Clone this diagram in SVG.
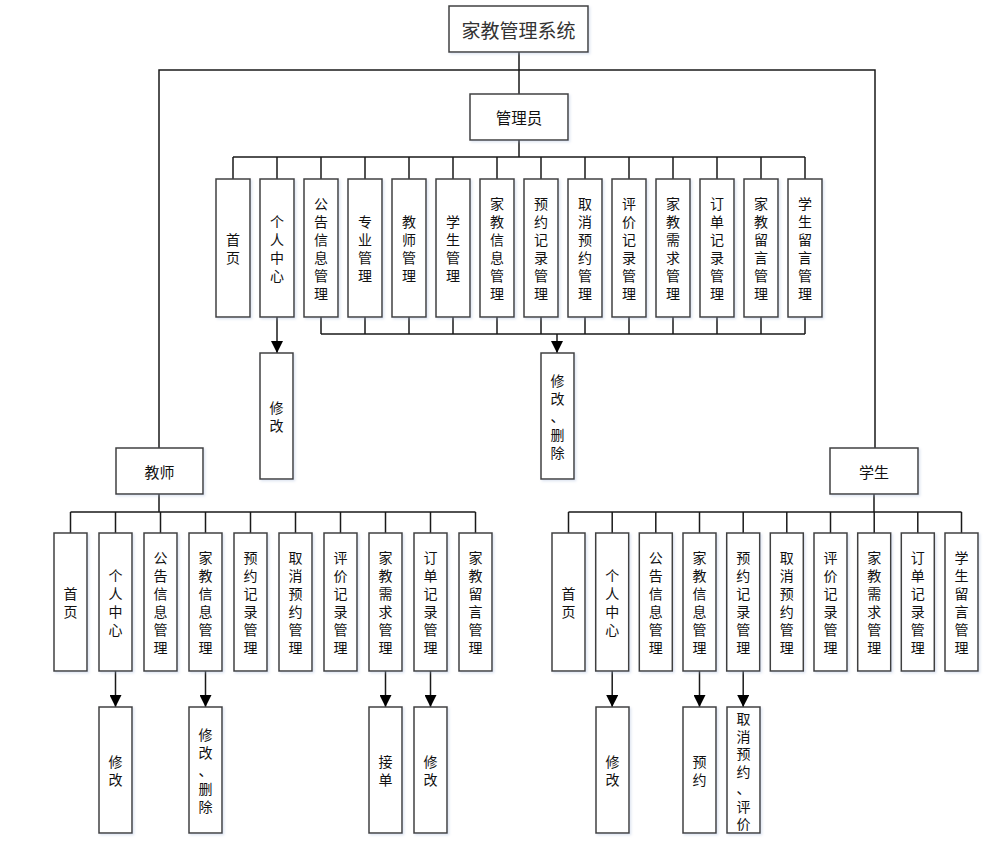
<svg xmlns="http://www.w3.org/2000/svg" width="992" height="850" viewBox="0 0 992 850">
<style>
.b{fill:#fff;stroke:#404040;stroke-width:1.5;filter:url(#sh)}
.t{font-family:"Noto Sans CJK SC","Liberation Sans",sans-serif;font-size:14px;fill:#111;text-anchor:middle;dominant-baseline:central}
.c line,.c path{stroke:#1a1a1a;stroke-width:1.5;fill:none}
.c .a{marker-end:url(#ar)}
</style>
<defs>
<filter id="sh" x="-20%" y="-10%" width="150%" height="130%"><feDropShadow dx="1.5" dy="1.5" stdDeviation="1" flood-color="#9fb4d6" flood-opacity="0.35"/></filter>
<marker id="ar" markerUnits="userSpaceOnUse" markerWidth="13" markerHeight="12" refX="12" refY="6" orient="auto" viewBox="0 0 13 12"><path d="M0,0 L12,6 L0,12 Z" fill="#000"/></marker>
</defs>
<g class="c" id="connectors">
<path d="M519,52 V94 M159,448 V70 H875 V448"/>
<path d="M519,140 V157 M233,157 H805"/>
<path d="M233,157V179M277,157V179M321,157V179M365,157V179M409,157V179M453,157V179M497,157V179M541,157V179M585,157V179M629,157V179M673,157V179M717,157V179M761,157V179M805,157V179"/>
<path d="M321,317V334M365,317V334M409,317V334M453,317V334M497,317V334M541,317V334M585,317V334M629,317V334M673,317V334M717,317V334M761,317V334M805,317V334 M321,334 H805"/>
<line class="a" x1="277" y1="317" x2="277" y2="353"/>
<line class="a" x1="557" y1="334" x2="557" y2="353"/>
<path d="M159,494 V512 M70.5,512 H475.5"/>
<path d="M70.5,512V533M115.5,512V533M160.5,512V533M205.5,512V533M250.5,512V533M295.5,512V533M340.5,512V533M385.5,512V533M430.5,512V533M475.5,512V533"/>
<line class="a" x1="115.5" y1="671" x2="115.5" y2="707"/>
<line class="a" x1="205.5" y1="671" x2="205.5" y2="707"/>
<line class="a" x1="385.5" y1="671" x2="385.5" y2="707"/>
<line class="a" x1="430.5" y1="671" x2="430.5" y2="707"/>
<path d="M874,494 V512 M568.5,512 H961.5"/>
<path d="M568.5,512V533M612.2,512V533M655.8,512V533M699.5,512V533M743.2,512V533M786.8,512V533M830.5,512V533M874.2,512V533M917.8,512V533M961.5,512V533"/>
<line class="a" x1="612.2" y1="671" x2="612.2" y2="707"/>
<line class="a" x1="699.5" y1="671" x2="699.5" y2="707"/>
<line class="a" x1="743.2" y1="671" x2="743.2" y2="707"/>
</g>
<g id="root"><rect class="b" x="449" y="6" width="139" height="46"/><text class="t" x="518.5" y="29" style="font-size:19px;fill:#333">家教管理系统</text></g>
<g id="admin"><rect class="b" x="470" y="94" width="98" height="46"/><text class="t" x="519" y="117" style="font-size:15.5px">管理员</text></g>
<g id="teacher"><rect class="b" x="116" y="448" width="87" height="46"/><text class="t" x="159.5" y="471" style="font-size:15px">教师</text></g>
<g id="student"><rect class="b" x="830" y="448" width="88" height="46"/><text class="t" x="874" y="471" style="font-size:15px">学生</text></g>

<g id="a1"><rect class="b" x="216" y="179" width="34" height="138"/><text class="t"><tspan x="233" y="239">首</tspan><tspan x="233" dy="18">页</tspan></text></g>
<g id="a2"><rect class="b" x="260" y="179" width="34" height="138"/><text class="t"><tspan x="277" y="221">个</tspan><tspan x="277" dy="18">人</tspan><tspan x="277" dy="18">中</tspan><tspan x="277" dy="18">心</tspan></text></g>
<g id="a3"><rect class="b" x="304" y="179" width="34" height="138"/><text class="t"><tspan x="321" y="203">公</tspan><tspan x="321" dy="18">告</tspan><tspan x="321" dy="18">信</tspan><tspan x="321" dy="18">息</tspan><tspan x="321" dy="18">管</tspan><tspan x="321" dy="18">理</tspan></text></g>
<g id="a4"><rect class="b" x="348" y="179" width="34" height="138"/><text class="t"><tspan x="365" y="221">专</tspan><tspan x="365" dy="18">业</tspan><tspan x="365" dy="18">管</tspan><tspan x="365" dy="18">理</tspan></text></g>
<g id="a5"><rect class="b" x="392" y="179" width="34" height="138"/><text class="t"><tspan x="409" y="221">教</tspan><tspan x="409" dy="18">师</tspan><tspan x="409" dy="18">管</tspan><tspan x="409" dy="18">理</tspan></text></g>
<g id="a6"><rect class="b" x="436" y="179" width="34" height="138"/><text class="t"><tspan x="453" y="221">学</tspan><tspan x="453" dy="18">生</tspan><tspan x="453" dy="18">管</tspan><tspan x="453" dy="18">理</tspan></text></g>
<g id="a7"><rect class="b" x="480" y="179" width="34" height="138"/><text class="t"><tspan x="497" y="203">家</tspan><tspan x="497" dy="18">教</tspan><tspan x="497" dy="18">信</tspan><tspan x="497" dy="18">息</tspan><tspan x="497" dy="18">管</tspan><tspan x="497" dy="18">理</tspan></text></g>
<g id="a8"><rect class="b" x="524" y="179" width="34" height="138"/><text class="t"><tspan x="541" y="203">预</tspan><tspan x="541" dy="18">约</tspan><tspan x="541" dy="18">记</tspan><tspan x="541" dy="18">录</tspan><tspan x="541" dy="18">管</tspan><tspan x="541" dy="18">理</tspan></text></g>
<g id="a9"><rect class="b" x="568" y="179" width="34" height="138"/><text class="t"><tspan x="585" y="203">取</tspan><tspan x="585" dy="18">消</tspan><tspan x="585" dy="18">预</tspan><tspan x="585" dy="18">约</tspan><tspan x="585" dy="18">管</tspan><tspan x="585" dy="18">理</tspan></text></g>
<g id="a10"><rect class="b" x="612" y="179" width="34" height="138"/><text class="t"><tspan x="629" y="203">评</tspan><tspan x="629" dy="18">价</tspan><tspan x="629" dy="18">记</tspan><tspan x="629" dy="18">录</tspan><tspan x="629" dy="18">管</tspan><tspan x="629" dy="18">理</tspan></text></g>
<g id="a11"><rect class="b" x="656" y="179" width="34" height="138"/><text class="t"><tspan x="673" y="203">家</tspan><tspan x="673" dy="18">教</tspan><tspan x="673" dy="18">需</tspan><tspan x="673" dy="18">求</tspan><tspan x="673" dy="18">管</tspan><tspan x="673" dy="18">理</tspan></text></g>
<g id="a12"><rect class="b" x="700" y="179" width="34" height="138"/><text class="t"><tspan x="717" y="203">订</tspan><tspan x="717" dy="18">单</tspan><tspan x="717" dy="18">记</tspan><tspan x="717" dy="18">录</tspan><tspan x="717" dy="18">管</tspan><tspan x="717" dy="18">理</tspan></text></g>
<g id="a13"><rect class="b" x="744" y="179" width="34" height="138"/><text class="t"><tspan x="761" y="203">家</tspan><tspan x="761" dy="18">教</tspan><tspan x="761" dy="18">留</tspan><tspan x="761" dy="18">言</tspan><tspan x="761" dy="18">管</tspan><tspan x="761" dy="18">理</tspan></text></g>
<g id="a14"><rect class="b" x="788" y="179" width="34" height="138"/><text class="t"><tspan x="805" y="203">学</tspan><tspan x="805" dy="18">生</tspan><tspan x="805" dy="18">留</tspan><tspan x="805" dy="18">言</tspan><tspan x="805" dy="18">管</tspan><tspan x="805" dy="18">理</tspan></text></g>
<g id="a2s"><rect class="b" x="260" y="353" width="33" height="126"/><text class="t"><tspan x="276.5" y="407">修</tspan><tspan x="276.5" dy="18">改</tspan></text></g>
<g id="a8s"><rect class="b" x="541" y="353" width="33" height="126"/><text class="t"><tspan x="557.5" y="380">修</tspan><tspan x="557.5" dy="18">改</tspan><tspan x="557.5" dy="18">、</tspan><tspan x="557.5" dy="18">删</tspan><tspan x="557.5" dy="18">除</tspan></text></g>

<g id="t1"><rect class="b" x="54" y="533" width="33" height="138"/><text class="t"><tspan x="70.5" y="593">首</tspan><tspan x="70.5" dy="18">页</tspan></text></g>
<g id="t2"><rect class="b" x="99" y="533" width="33" height="138"/><text class="t"><tspan x="115.5" y="575">个</tspan><tspan x="115.5" dy="18">人</tspan><tspan x="115.5" dy="18">中</tspan><tspan x="115.5" dy="18">心</tspan></text></g>
<g id="t3"><rect class="b" x="144" y="533" width="33" height="138"/><text class="t"><tspan x="160.5" y="557">公</tspan><tspan x="160.5" dy="18">告</tspan><tspan x="160.5" dy="18">信</tspan><tspan x="160.5" dy="18">息</tspan><tspan x="160.5" dy="18">管</tspan><tspan x="160.5" dy="18">理</tspan></text></g>
<g id="t4"><rect class="b" x="189" y="533" width="33" height="138"/><text class="t"><tspan x="205.5" y="557">家</tspan><tspan x="205.5" dy="18">教</tspan><tspan x="205.5" dy="18">信</tspan><tspan x="205.5" dy="18">息</tspan><tspan x="205.5" dy="18">管</tspan><tspan x="205.5" dy="18">理</tspan></text></g>
<g id="t5"><rect class="b" x="234" y="533" width="33" height="138"/><text class="t"><tspan x="250.5" y="557">预</tspan><tspan x="250.5" dy="18">约</tspan><tspan x="250.5" dy="18">记</tspan><tspan x="250.5" dy="18">录</tspan><tspan x="250.5" dy="18">管</tspan><tspan x="250.5" dy="18">理</tspan></text></g>
<g id="t6"><rect class="b" x="279" y="533" width="33" height="138"/><text class="t"><tspan x="295.5" y="557">取</tspan><tspan x="295.5" dy="18">消</tspan><tspan x="295.5" dy="18">预</tspan><tspan x="295.5" dy="18">约</tspan><tspan x="295.5" dy="18">管</tspan><tspan x="295.5" dy="18">理</tspan></text></g>
<g id="t7"><rect class="b" x="324" y="533" width="33" height="138"/><text class="t"><tspan x="340.5" y="557">评</tspan><tspan x="340.5" dy="18">价</tspan><tspan x="340.5" dy="18">记</tspan><tspan x="340.5" dy="18">录</tspan><tspan x="340.5" dy="18">管</tspan><tspan x="340.5" dy="18">理</tspan></text></g>
<g id="t8"><rect class="b" x="369" y="533" width="33" height="138"/><text class="t"><tspan x="385.5" y="557">家</tspan><tspan x="385.5" dy="18">教</tspan><tspan x="385.5" dy="18">需</tspan><tspan x="385.5" dy="18">求</tspan><tspan x="385.5" dy="18">管</tspan><tspan x="385.5" dy="18">理</tspan></text></g>
<g id="t9"><rect class="b" x="414" y="533" width="33" height="138"/><text class="t"><tspan x="430.5" y="557">订</tspan><tspan x="430.5" dy="18">单</tspan><tspan x="430.5" dy="18">记</tspan><tspan x="430.5" dy="18">录</tspan><tspan x="430.5" dy="18">管</tspan><tspan x="430.5" dy="18">理</tspan></text></g>
<g id="t10"><rect class="b" x="459" y="533" width="33" height="138"/><text class="t"><tspan x="475.5" y="557">家</tspan><tspan x="475.5" dy="18">教</tspan><tspan x="475.5" dy="18">留</tspan><tspan x="475.5" dy="18">言</tspan><tspan x="475.5" dy="18">管</tspan><tspan x="475.5" dy="18">理</tspan></text></g>
<g id="t2s"><rect class="b" x="99" y="707" width="33" height="126"/><text class="t"><tspan x="115.5" y="761">修</tspan><tspan x="115.5" dy="18">改</tspan></text></g>
<g id="t4s"><rect class="b" x="189" y="707" width="33" height="126"/><text class="t"><tspan x="205.5" y="734">修</tspan><tspan x="205.5" dy="18">改</tspan><tspan x="205.5" dy="18">、</tspan><tspan x="205.5" dy="18">删</tspan><tspan x="205.5" dy="18">除</tspan></text></g>
<g id="t8s"><rect class="b" x="369" y="707" width="33" height="126"/><text class="t"><tspan x="385.5" y="761">接</tspan><tspan x="385.5" dy="18">单</tspan></text></g>
<g id="t9s"><rect class="b" x="414" y="707" width="33" height="126"/><text class="t"><tspan x="430.5" y="761">修</tspan><tspan x="430.5" dy="18">改</tspan></text></g>

<g id="s1"><rect class="b" x="552" y="533" width="33" height="138"/><text class="t"><tspan x="568.5" y="593">首</tspan><tspan x="568.5" dy="18">页</tspan></text></g>
<g id="s2"><rect class="b" x="595.7" y="533" width="33" height="138"/><text class="t"><tspan x="612.2" y="575">个</tspan><tspan x="612.2" dy="18">人</tspan><tspan x="612.2" dy="18">中</tspan><tspan x="612.2" dy="18">心</tspan></text></g>
<g id="s3"><rect class="b" x="639.3" y="533" width="33" height="138"/><text class="t"><tspan x="655.8" y="557">公</tspan><tspan x="655.8" dy="18">告</tspan><tspan x="655.8" dy="18">信</tspan><tspan x="655.8" dy="18">息</tspan><tspan x="655.8" dy="18">管</tspan><tspan x="655.8" dy="18">理</tspan></text></g>
<g id="s4"><rect class="b" x="683" y="533" width="33" height="138"/><text class="t"><tspan x="699.5" y="557">家</tspan><tspan x="699.5" dy="18">教</tspan><tspan x="699.5" dy="18">信</tspan><tspan x="699.5" dy="18">息</tspan><tspan x="699.5" dy="18">管</tspan><tspan x="699.5" dy="18">理</tspan></text></g>
<g id="s5"><rect class="b" x="726.7" y="533" width="33" height="138"/><text class="t"><tspan x="743.2" y="557">预</tspan><tspan x="743.2" dy="18">约</tspan><tspan x="743.2" dy="18">记</tspan><tspan x="743.2" dy="18">录</tspan><tspan x="743.2" dy="18">管</tspan><tspan x="743.2" dy="18">理</tspan></text></g>
<g id="s6"><rect class="b" x="770.3" y="533" width="33" height="138"/><text class="t"><tspan x="786.8" y="557">取</tspan><tspan x="786.8" dy="18">消</tspan><tspan x="786.8" dy="18">预</tspan><tspan x="786.8" dy="18">约</tspan><tspan x="786.8" dy="18">管</tspan><tspan x="786.8" dy="18">理</tspan></text></g>
<g id="s7"><rect class="b" x="814" y="533" width="33" height="138"/><text class="t"><tspan x="830.5" y="557">评</tspan><tspan x="830.5" dy="18">价</tspan><tspan x="830.5" dy="18">记</tspan><tspan x="830.5" dy="18">录</tspan><tspan x="830.5" dy="18">管</tspan><tspan x="830.5" dy="18">理</tspan></text></g>
<g id="s8"><rect class="b" x="857.7" y="533" width="33" height="138"/><text class="t"><tspan x="874.2" y="557">家</tspan><tspan x="874.2" dy="18">教</tspan><tspan x="874.2" dy="18">需</tspan><tspan x="874.2" dy="18">求</tspan><tspan x="874.2" dy="18">管</tspan><tspan x="874.2" dy="18">理</tspan></text></g>
<g id="s9"><rect class="b" x="901.3" y="533" width="33" height="138"/><text class="t"><tspan x="917.8" y="557">订</tspan><tspan x="917.8" dy="18">单</tspan><tspan x="917.8" dy="18">记</tspan><tspan x="917.8" dy="18">录</tspan><tspan x="917.8" dy="18">管</tspan><tspan x="917.8" dy="18">理</tspan></text></g>
<g id="s10"><rect class="b" x="945" y="533" width="33" height="138"/><text class="t"><tspan x="961.5" y="557">学</tspan><tspan x="961.5" dy="18">生</tspan><tspan x="961.5" dy="18">留</tspan><tspan x="961.5" dy="18">言</tspan><tspan x="961.5" dy="18">管</tspan><tspan x="961.5" dy="18">理</tspan></text></g>
<g id="s2s"><rect class="b" x="596" y="707" width="33" height="126"/><text class="t"><tspan x="612.5" y="761">修</tspan><tspan x="612.5" dy="18">改</tspan></text></g>
<g id="s4s"><rect class="b" x="683" y="707" width="33" height="126"/><text class="t"><tspan x="699.5" y="761">预</tspan><tspan x="699.5" dy="18">约</tspan></text></g>
<g id="s5s"><rect class="b" x="727" y="707" width="33" height="126"/><text class="t"><tspan x="743.5" y="718">取</tspan><tspan x="743.5" dy="17.5">消</tspan><tspan x="743.5" dy="17.5">预</tspan><tspan x="743.5" dy="17.5">约</tspan><tspan x="743.5" dy="17.5">、</tspan><tspan x="743.5" dy="17.5">评</tspan><tspan x="743.5" dy="17.5">价</tspan></text></g>
</svg>
